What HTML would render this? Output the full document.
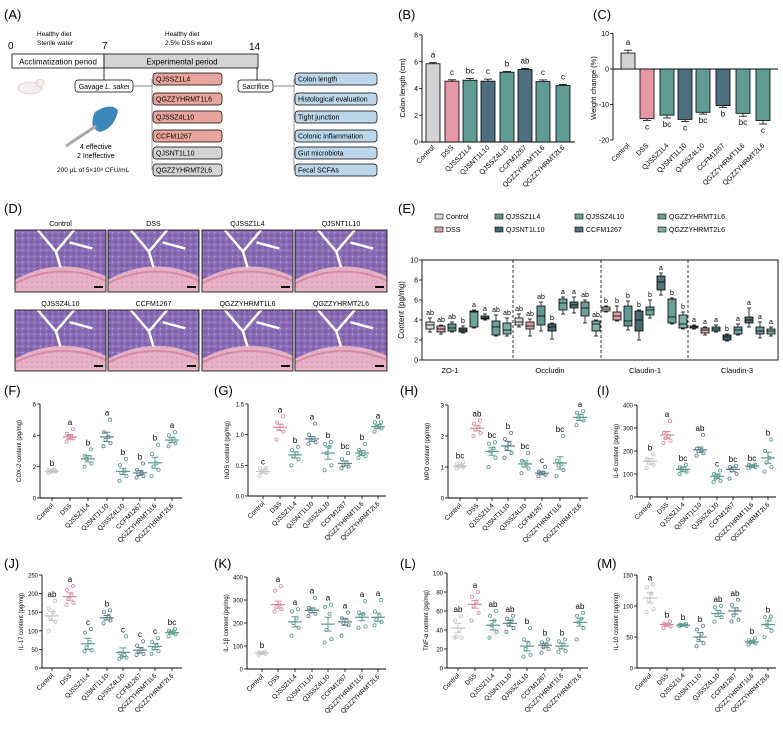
<!DOCTYPE html>
<html><head><meta charset="utf-8"><style>
html,body{margin:0;padding:0;background:#fff;}
svg{display:block;font-family:"Liberation Sans",Arial,sans-serif;}
</style></head><body>
<svg id="fig" width="783" height="733" viewBox="0 0 783 733" xmlns="http://www.w3.org/2000/svg">
<defs>
<pattern id="tex" width="6" height="6" patternUnits="userSpaceOnUse">
<circle cx="1.5" cy="1.5" r="1.1" fill="#5b3f8f" opacity="0.55"/>
<circle cx="4.5" cy="4.5" r="0.9" fill="#fff" opacity="0.35"/>
</pattern>
<pattern id="tex2" width="5" height="5" patternUnits="userSpaceOnUse">
<circle cx="2" cy="2" r="0.8" fill="#c77a9e" opacity="0.6"/>
</pattern>
</defs>
<!-- Panel A -->
<g font-size="7.5">
<text x="4" y="19" font-size="13">(A)</text>
<text x="37" y="36" font-size="6.5">Healthy diet</text>
<text x="37" y="45" font-size="6.5">Sterile water</text>
<text x="165" y="36" font-size="6.5">Healthy diet</text>
<text x="165" y="45" font-size="6.5">2.5% DSS water</text>
<text x="8" y="49" font-size="10">0</text>
<text x="102" y="49" font-size="10">7</text>
<text x="249" y="50" font-size="10">14</text>
<rect x="12" y="54" width="92" height="14" fill="#fff" stroke="#000" stroke-width="0.8"/>
<rect x="104" y="54" width="154" height="14" fill="#d4d4d4" stroke="#000" stroke-width="0.8"/>
<text x="58" y="64.5" text-anchor="middle" font-size="8">Acclimatization period</text>
<text x="182" y="64.5" text-anchor="middle" font-size="8">Experimental period</text>
<line x1="104" y1="68" x2="104" y2="80" stroke="#000" stroke-width="0.8"/>
<line x1="257" y1="68" x2="257" y2="80" stroke="#000" stroke-width="0.8"/>
<rect x="75" y="80" width="58" height="12" rx="3" fill="#fff" stroke="#000" stroke-width="0.7"/>
<text x="104" y="89" text-anchor="middle" font-size="7">Gavage <tspan font-style="italic">L. sakei</tspan></text>
<line x1="133" y1="86" x2="153" y2="86" stroke="#888" stroke-width="1"/>
<line x1="152" y1="79" x2="152" y2="170" stroke="#888" stroke-width="0.8"/>
<rect x="238" y="80" width="35" height="12" rx="3" fill="#fff" stroke="#000" stroke-width="0.7"/>
<text x="255.5" y="89" text-anchor="middle" font-size="7">Sacrifice</text>
<line x1="273" y1="86" x2="295" y2="86" stroke="#888" stroke-width="1"/>
<line x1="294" y1="79" x2="294" y2="170" stroke="#888" stroke-width="0.8"/>
<g id="strainBoxes"></g><g id="outcomeBoxes"></g>
<ellipse cx="30" cy="88" rx="12" ry="6" fill="#f4eeee" stroke="#d8b8b8" stroke-width="0.6"/>
<circle cx="40" cy="83" r="4" fill="#f4eeee" stroke="#d8b8b8" stroke-width="0.6"/>
<path d="M95 112 Q110 102 118 110 Q115 128 100 132 Q88 128 95 112Z" fill="#3d86b8"/>
<line x1="66" y1="146" x2="96" y2="126" stroke="#aaa" stroke-width="3"/>
<text x="80" y="149" font-size="7">4 effective</text>
<text x="77" y="158" font-size="7">2 Ineffective</text>
<text x="57" y="172" font-size="6.5">200 μL of 5×10⁸ CFU/mL</text>
</g>
<!-- Panel D -->
<g id="panelD">
<text x="4" y="213" font-size="13">(D)</text>
</g>
<g id="panelB"></g><g id="panelC"></g><g id="panelE"></g><g id="scatters"></g>
</svg>
<script>
// ---------- data ----------
const groups = ["Control","DSS","QJSSZ1L4","QJSNT1L10","QJSSZ4L10","CCFM1267","QGZZYHRMT1L6","QGZZYHRMT2L6"];
const strainList = ["QJSSZ1L4","QGZZYHRMT1L6","QJSSZ4L10","CCFM1267","QJSNT1L10","QGZZYHRMT2L6"];
const outcomeList = ["Colon length","Histological evaluation","Tight junction","Colonic inflammation","Gut microbiota","Fecal SCFAs"];
const histoTitles = ["Control","DSS","QJSSZ1L4","QJSNT1L10","QJSSZ4L10","CCFM1267","QGZZYHRMT1L6","QGZZYHRMT2L6"];

const bMeans = [5.85,4.55,4.62,4.55,5.22,5.42,4.52,4.22];
const bSem = [0.08,0.1,0.12,0.15,0.05,0.08,0.12,0.08];
const bLetters = ["a","c","bc","c","b","ab","c","c"];
const bTicks = [0,2,4,6,8];

const cMeans = [4.5,-14,-13,-14.2,-12.2,-10.3,-12.5,-14.5];
const cSem = [0.8,0.5,0.8,0.6,0.5,0.5,0.8,1.0];
const cLetters = ["a","c","bc","c","bc","b","bc","c"];
const cTicks = [-20,-10,0,10];

const eMarkers = ["ZO-1","Occludin","Claudin-1","Claudin-3"];
const eTicks = [0,2,4,6,8,10];
const eZO1 = [[2.8,3.1,3.5,3.8,4.2],[2.6,2.8,3.1,3.4,3.5],[2.8,2.9,3.2,3.6,3.8],[2.7,2.8,3.0,3.2,3.4],[3.2,3.3,4.8,4.9,5.0],[4.0,4.1,4.2,4.4,4.6],[2.4,2.5,3.3,3.9,4.5],[2.4,2.6,3.0,3.7,4.2]];
const eOcc = [[3.3,3.5,3.8,4.2,4.6],[2.4,3.1,3.4,3.8,4.1],[2.9,3.5,4.4,5.4,5.8],[2.1,2.9,3.3,3.6,3.7],[4.6,5.0,5.7,6.1,6.3],[4.7,5.2,5.5,5.8,6.3],[3.7,4.4,5.2,5.8,6.0],[2.4,2.9,3.6,3.9,4.0]];
const eCld1 = [[4.8,4.9,5.1,5.3,5.4],[3.9,4.0,4.4,4.8,5.4],[3.0,3.4,3.9,5.4,5.9],[2.0,2.9,4.0,4.9,5.0],[4.2,4.5,5.0,5.3,6.0],[6.5,7.0,7.8,8.4,8.7],[3.6,3.7,4.3,6.1,6.2],[3.1,3.2,3.6,4.5,4.8]];
const eCld3 = [[3.1,3.2,3.3,3.4,3.5],[2.5,2.7,3.0,3.2,3.3],[2.8,2.9,3.1,3.3,3.5],[1.9,2.0,2.3,2.5,2.6],[2.5,2.6,3.0,3.3,3.6],[3.3,3.7,4.0,4.3,5.2],[2.2,2.6,2.9,3.3,3.8],[2.4,2.6,2.9,3.1,3.3]];
const eLetZO1 = ["ab","ab","ab","b","a","a","ab","ab"];
const eLetOcc = ["ab","ab","ab","b","a","a","ab","ab"];
const eLetCld1 = ["b","b","b","b","b","a","b","b"];
const eLetCld3 = ["a","a","a","b","a","a","a","a"];

const fMeans=[1.7,3.9,2.5,3.9,1.7,1.6,2.25,3.7], fSem=[0.1,0.15,0.2,0.3,0.2,0.15,0.35,0.15], fLetters=["b","a","b","a","b","b","b","a"], fTicks=[0,2,4,6];
const fPts=[[1.6,1.7,1.7,1.8,1.8,1.75],[3.6,3.8,3.9,3.9,4.1,4.4],[2.0,2.2,2.5,2.6,2.7,3.1],[3.3,3.5,3.7,3.9,4.2,5.0],[1.1,1.4,1.6,1.7,2.1,2.5],[1.3,1.4,1.5,1.6,1.8,2.2],[1.4,1.8,2.0,2.2,2.8,3.4],[3.3,3.5,3.6,3.8,4.0,4.2]];
const gMeans=[0.4,1.12,0.67,0.93,0.7,0.53,0.7,1.13], gSem=[0.03,0.05,0.05,0.04,0.1,0.04,0.04,0.03], gLetters=["c","a","b","a","b","bc","b","a"], gTicks=[0,0.5,1.0,1.5];
const gPts=[[0.33,0.38,0.4,0.42,0.45,0.45],[0.92,1.05,1.1,1.15,1.2,1.3],[0.5,0.6,0.65,0.7,0.75,0.8],[0.85,0.88,0.92,0.95,1.0,1.18],[0.42,0.5,0.7,0.8,0.85,0.88],[0.45,0.48,0.5,0.55,0.6,0.7],[0.62,0.65,0.7,0.72,0.75,0.85],[1.05,1.1,1.12,1.15,1.2,1.2]];
const hMeans=[1.03,2.25,1.5,1.68,1.1,0.8,1.13,2.6], hSem=[0.04,0.08,0.12,0.15,0.1,0.05,0.2,0.1], hLetters=["bc","ab","bc","b","bc","c","bc","a"], hTicks=[0,1,2,3];
const hPts=[[0.95,1,1.02,1.05,1.1,1.15],[2.0,2.1,2.2,2.3,2.4,2.5],[1.0,1.3,1.5,1.6,1.75,1.8],[1.3,1.45,1.6,1.75,1.9,2.1],[0.8,0.95,1.05,1.1,1.2,1.45],[0.7,0.75,0.8,0.82,0.85,1.0],[0.7,0.9,1.05,1.1,1.2,2.0],[2.35,2.5,2.6,2.65,2.75,2.8]];
const iMeans=[155,270,120,205,90,120,135,170], iSem=[12,15,10,12,10,10,5,25], iLetters=["b","a","bc","ab","c","bc","bc","b"], iTicks=[0,100,200,300,400];
const iPts=[[125,140,150,160,165,185],[235,245,255,265,280,330],[100,110,120,125,130,140],[180,190,200,205,210,270],[65,70,80,90,100,115],[80,100,115,125,130,135],[125,130,132,135,140,140],[110,130,150,170,200,250]];
const jMeans=[140,192,65,135,42,48,58,95], jSem=[12,10,15,6,12,7,8,4], jLetters=["ab","a","c","b","c","c","c","bc"], jTicks=[0,50,100,150,200,250];
const jPts=[[100,125,135,150,160,180],[170,175,185,195,210,220],[45,48,55,70,95,105],[120,128,132,140,150,155],[25,28,30,35,40,85],[35,38,42,50,60,72],[38,45,52,60,70,80],[85,90,95,98,100,105]];
const kMeans=[70,280,205,255,195,205,225,225], kSem=[4,15,22,10,30,15,15,18], kLetters=["b","a","a","a","a","a","a","a"], kTicks=[0,100,200,300,400];
const kPts=[[62,65,68,70,72,75],[250,260,270,280,340,360],[145,180,200,220,250,260],[230,240,250,260,265,310],[115,130,170,240,270,280],[145,190,200,210,220,245],[180,185,230,240,245,295],[190,205,215,230,250,300]];
const lMeans=[42,67,45,47,23,24,23,48], lSem=[5,4,5,3,5,2,3,4], lLetters=["ab","a","ab","ab","b","b","b","ab"], lTicks=[0,20,40,60,80,100];
const lPts=[[32,32,33,40,50,55],[50,58,65,70,75,80],[32,38,45,50,55,60],[38,42,46,50,52,55],[12,14,20,25,30,42],[16,20,22,25,27,30],[17,18,22,25,28,30],[30,42,48,52,55,58]];
const mMeans=[113,70,69,50,88,92,42,70], mSem=[8,2,1,7,5,5,2,6], mLetters=["a","b","b","b","ab","ab","b","b"], mTicks=[0,50,100,150];
const mPts=[[90,95,110,120,130,135],[65,67,69,70,72,75],[68,68,69,70,70,71],[35,40,48,55,62,68],[75,82,85,90,98,100],[75,78,85,95,102,110],[38,40,42,43,45,48],[50,60,70,78,82,83]];

// ---------- styling ----------
const NS="http://www.w3.org/2000/svg";
const barCols=["#d2d2d2","#e597a3","#5f9c94","#4e6f7f","#5f9c94","#4e6f7f","#5f9c94","#5f9c94"];
const boxCols=["#d9d9d9","#d9a2aa","#5e9a92","#4a6670","#6aa59c","#56737c","#6b9e98","#7fb0a8"];
const dotCols=["#c4c4c4","#d98a98","#5a9a90","#5a8088","#5a9a90","#5a8088","#5a9a90","#5a9a90"];

function mk(tag,attrs,parent,text){const e=document.createElementNS(NS,tag);for(const k in attrs)e.setAttribute(k,attrs[k]);if(text!==undefined)e.textContent=text;parent.appendChild(e);return e;}
function lin(d0,d1,r0,r1){return v=>r0+(v-d0)*(r1-r0)/(d1-d0);}

// ---------- panel A boxes ----------
const sb=document.getElementById('strainBoxes');
const boxYs=[73,93,111,130,147,164];
strainList.forEach((s,i)=>{
  const r=mk('rect',{x:153,y:boxYs[i],width:69,height:12,rx:3,fill:i<4?"#e8a59e":"#d4d4d4",stroke:"#000","stroke-width":0.7},sb);
  
  
  const t=mk('text',{x:156,y:boxYs[i]+8.7,"font-size":7},sb,s);
  
  
});
const ob=document.getElementById('outcomeBoxes');
outcomeList.forEach((s,i)=>{
  const r=mk('rect',{x:295,y:boxYs[i],width:82,height:12,rx:3,fill:"#bcd7ea",stroke:"#000","stroke-width":0.7},ob);
  
  
  const t=mk('text',{x:298,y:boxYs[i]+8.7,"font-size":7},ob,s);
  
  
});

// ---------- panel D histology ----------
const pd=document.getElementById('panelD');
const hx=[15,108,202,295], hy=[230,310], hw=[91,91,91,92];
histoTitles.forEach((t,i)=>{
  const c=i%4,r=Math.floor(i/4),x=hx[c],y=hy[r],w=hw[c],h=r?61:62;
  const g=mk('g',{},pd);
  
  
  mk('rect',{x:x,y:y,width:w,height:h,fill:"#e6b3c6"},g);
  mk('rect',{x:x,y:y,width:w,height:h,fill:"url(#tex2)"},g);
  const pth=`M${x} ${y+h*0.8} Q${x+w/2} ${y+h*0.4} ${x+w} ${y+h*0.75} L${x+w} ${y} L${x} ${y}Z`;
  mk('path',{d:pth,fill:"#8a6bb5"},g);
  mk('path',{d:pth,fill:"url(#tex)"},g);
  mk('path',{d:`M${x} ${y+h*0.86} Q${x+w/2} ${y+h*0.5} ${x+w} ${y+h*0.82}`,fill:"none",stroke:"#d88aa8","stroke-width":2},g);
  mk('path',{d:`M${x+w*0.25} ${y} L${x+w*0.45} ${y+h*0.35} L${x+w*0.65} ${y} M${x+w*0.45} ${y+h*0.35} L${x+w*0.5} ${y+h*0.6} M${x+w*0.6} ${y+h*0.2} L${x+w*0.85} ${y+h*0.3}`,fill:"none",stroke:"#fff","stroke-width":2.5},g);
  mk('rect',{x:x,y:y,width:w,height:h,fill:"none",stroke:"#000","stroke-width":0.8},g);
  mk('rect',{x:x+w-12,y:y+h-6,width:9,height:2,fill:"#000"},g);
  const tt=mk('text',{x:x+w/2,y:y-4,"text-anchor":"middle","font-size":7},pd,t);
  
  
});

// ---------- shared axis helpers ----------
function xLabels(g,xs,yBase,fs){
  groups.forEach((n,i)=>{
    const t=mk('text',{x:xs[i]+2,y:yBase,"text-anchor":"end","font-size":fs,transform:`rotate(-45 ${xs[i]+2} ${yBase})`},g,n);
    
    
  });
}
function yAxis(g,ax,ticks,ys,fs,fmt){
  mk('line',{x1:ax,y1:ys(ticks[ticks.length-1]),x2:ax,y2:ys(ticks[0]),stroke:"#000","stroke-width":0.9},g);
  ticks.forEach(v=>{
    mk('line',{x1:ax-3,y1:ys(v),x2:ax,y2:ys(v),stroke:"#000","stroke-width":0.8},g);
    const t=mk('text',{x:ax-4,y:ys(v)+2.5,"text-anchor":"end","font-size":fs},g,fmt?fmt(v):v);
    
    
  });
}

// ---------- panel B ----------
(function(){
  const g=document.getElementById('panelB');
  
  
  mk('text',{x:398,y:19,"font-size":13},g,"(B)");
  const ys=lin(0,8,142,35), bx=[433,452,470,488,507,525,543,563];
  yAxis(g,422,bTicks,ys,7);
  mk('line',{x1:422,y1:142,x2:575,y2:142,stroke:"#000","stroke-width":0.9},g);
  bMeans.forEach((m,i)=>{
    const r=mk('rect',{x:bx[i]-7,y:ys(m),width:14,height:142-ys(m),fill:barCols[i],stroke:"#000","stroke-width":0.8},g);
    
    
    mk('line',{x1:bx[i],y1:ys(m+bSem[i]),x2:bx[i],y2:ys(m),stroke:"#000","stroke-width":0.8},g);
    mk('line',{x1:bx[i]-4,y1:ys(m+bSem[i]),x2:bx[i]+4,y2:ys(m+bSem[i]),stroke:"#000","stroke-width":0.8},g);
    const t=mk('text',{x:bx[i],y:ys(m+bSem[i])-5,"text-anchor":"middle","font-size":8},g,bLetters[i]);
    
    
  });
  xLabels(g,bx,148,7);
  const yt=mk('text',{x:405,y:88,"text-anchor":"middle","font-size":7.5,transform:"rotate(-90 405 88)"},g,"Colon length (cm)");
  
  
})();

// ---------- panel C ----------
(function(){
  const g=document.getElementById('panelC');
  
  
  mk('text',{x:593,y:19,"font-size":13},g,"(C)");
  const ys=lin(0,-20,69,140), bx=[628,647,667,685,703,723,743,763];
  yAxis(g,613,cTicks,ys,7);
  mk('line',{x1:613,y1:ys(0),x2:778,y2:ys(0),stroke:"#000","stroke-width":0.9},g);
  cMeans.forEach((m,i)=>{
    const y0=ys(0),y1=ys(m);
    const r=mk('rect',{x:bx[i]-7,y:Math.min(y0,y1),width:14,height:Math.abs(y1-y0),fill:barCols[i],stroke:"#000","stroke-width":0.8},g);
    
    
    const e=m>=0?m+cSem[i]:m-cSem[i];
    mk('line',{x1:bx[i],y1:ys(e),x2:bx[i],y2:y1,stroke:"#000","stroke-width":0.8},g);
    mk('line',{x1:bx[i]-4,y1:ys(e),x2:bx[i]+4,y2:ys(e),stroke:"#000","stroke-width":0.8},g);
    const ly=m>=0?ys(e)-5:ys(e)+9;
    const t=mk('text',{x:bx[i],y:ly,"text-anchor":"middle","font-size":8},g,cLetters[i]);
    
    
  });
  xLabels(g,bx,146,7);
  const yt=mk('text',{x:596,y:88,"text-anchor":"middle","font-size":7.5,transform:"rotate(-90 596 88)"},g,"Weight change (%)");
  
  
})();

// ---------- panel E ----------
(function(){
  const g=document.getElementById('panelE');
  
  
  mk('text',{x:398,y:213,"font-size":13},g,"(E)");
  const lx=[445,505,585,668];
  groups.forEach((n,gi)=>{
    const x=lx[Math.floor(gi/2)], yy=gi%2===0?219:232;
    const le=mk('g',{},g);
    
    
    mk('rect',{x:x-10,y:yy-5,width:8,height:5,fill:boxCols[gi],stroke:"#000","stroke-width":0.6},le);
    mk('text',{x:x+1,y:yy,"font-size":7},le,n);
  });
  const ys=lin(0,10,360,260);
  mk('rect',{x:422,y:260,width:356,height:100,fill:"none",stroke:"#000","stroke-width":0.9},g);
  eTicks.forEach(v=>{
    mk('line',{x1:419,y1:ys(v),x2:422,y2:ys(v),stroke:"#000","stroke-width":0.8},g);
    const t=mk('text',{x:418,y:ys(v)+2.5,"text-anchor":"end","font-size":7},g,v);
    
    
  });
  [513,601,688].forEach(x=>mk('line',{x1:x,y1:260,x2:x,y2:360,stroke:"#000","stroke-width":0.8,"stroke-dasharray":"3,2"},g));
  const sets=[eZO1,eOcc,eCld1,eCld3], lets=[eLetZO1,eLetOcc,eLetCld1,eLetCld3];
  const gStart=[430,519,606,694], gStep=11, gLab=[450,550,645,737];
  sets.forEach((set,si)=>{
    const t=mk('text',{x:gLab[si],y:373,"text-anchor":"middle","font-size":7.5},g,eMarkers[si]);
    
    
    set.forEach((b,i)=>{
      const cx=gStart[si]+i*gStep, w=8;
      const bg=mk('g',{},g);
      
      
      mk('line',{x1:cx,y1:ys(b[0]),x2:cx,y2:ys(b[4]),stroke:"#000","stroke-width":0.8},bg);
      mk('line',{x1:cx-2,y1:ys(b[0]),x2:cx+2,y2:ys(b[0]),stroke:"#000","stroke-width":0.8},bg);
      mk('line',{x1:cx-2,y1:ys(b[4]),x2:cx+2,y2:ys(b[4]),stroke:"#000","stroke-width":0.8},bg);
      mk('rect',{x:cx-w/2,y:ys(b[3]),width:w,height:ys(b[1])-ys(b[3]),fill:boxCols[i],stroke:"#000","stroke-width":0.8},bg);
      mk('line',{x1:cx-w/2,y1:ys(b[2]),x2:cx+w/2,y2:ys(b[2]),stroke:"#000","stroke-width":0.8},bg);
      const lt=mk('text',{x:cx,y:ys(b[4])-3,"text-anchor":"middle","font-size":7},g,lets[si][i]);
      
      
    });
  });
  const yt=mk('text',{x:404,y:310,"text-anchor":"middle","font-size":8,transform:"rotate(-90 404 310)"},g,"Content (pg/mg)");
  
  
})();

// ---------- scatter panels F–M ----------
const panels=[
 {id:"f",lab:"(F)",lx:4,ly:395,ax:40,top:404,bot:498,xEnd:182,xs:[52,70,88,107,123,140,155,172],ticks:fTicks,means:fMeans,sem:fSem,pts:fPts,let:fLetters,title:"COX-2 content (pg/mg)",fmt:null},
 {id:"g",lab:"(G)",lx:214,ly:395,ax:248,top:404,bot:496,xEnd:386,xs:[263,280,295,312,328,345,362,378],ticks:gTicks,means:gMeans,sem:gSem,pts:gPts,let:gLetters,title:"iNOS content (pg/mg)",fmt:v=>v.toFixed(1)},
 {id:"h",lab:"(H)",lx:400,ly:395,ax:448,top:405,bot:498,xEnd:588,xs:[460,477,492,508,525,542,560,580],ticks:hTicks,means:hMeans,sem:hSem,pts:hPts,let:hLetters,title:"MPO content (pg/mg)",fmt:null},
 {id:"i",lab:"(I)",lx:597,ly:395,ax:637,top:405,bot:497,xEnd:776,xs:[650,667,683,700,717,733,752,768],ticks:iTicks,means:iMeans,sem:iSem,pts:iPts,let:iLetters,title:"IL-6 content (pg/mg)",fmt:null},
 {id:"j",lab:"(J)",lx:4,ly:568,ax:42,top:575,bot:668,xEnd:182,xs:[52,70,88,107,123,140,155,172],ticks:jTicks,means:jMeans,sem:jSem,pts:jPts,let:jLetters,title:"IL-17 content (pg/mg)",fmt:null},
 {id:"k",lab:"(K)",lx:214,ly:568,ax:247,top:577,bot:669,xEnd:386,xs:[262,278,295,312,328,345,362,378],ticks:kTicks,means:kMeans,sem:kSem,pts:kPts,let:kLetters,title:"IL-1β content (pg/mg)",fmt:null},
 {id:"l",lab:"(L)",lx:400,ly:568,ax:447,top:573,bot:668,xEnd:588,xs:[458,475,493,510,527,545,562,580],ticks:lTicks,means:lMeans,sem:lSem,pts:lPts,let:lLetters,title:"TNF-α content (pg/mg)",fmt:null},
 {id:"m",lab:"(M)",lx:597,ly:568,ax:637,top:575,bot:668,xEnd:776,xs:[650,667,683,700,718,735,752,768],ticks:mTicks,means:mMeans,sem:mSem,pts:mPts,let:mLetters,title:"IL-10 content (pg/mg)",fmt:null}
];
const sc=document.getElementById('scatters');
panels.forEach(p=>{
  const g=mk('g',{},sc);
  
  
  mk('text',{x:p.lx,y:p.ly,"font-size":13},g,p.lab);
  const ys=lin(p.ticks[0],p.ticks[p.ticks.length-1],p.bot,p.top);
  yAxis(g,p.ax,p.ticks,ys,6,p.fmt);
  mk('line',{x1:p.ax,y1:p.bot,x2:p.xEnd,y2:p.bot,stroke:"#000","stroke-width":0.9},g);
  p.xs.forEach(x=>mk('line',{x1:x,y1:p.bot,x2:x,y2:p.bot+3,stroke:"#000","stroke-width":0.8},g));
  p.means.forEach((m,i)=>{
    const cx=p.xs[i], col=dotCols[i];
    const pg=mk('g',{},g);
    
    
    p.pts[i].forEach((v,k)=>{
      const off=[-3.5,3.5,-1.5,1.5,-3,3][k];
      mk('circle',{cx:cx+off,cy:ys(v),r:1.6,fill:"none",stroke:col,"stroke-width":0.8},pg);
    });
    mk('line',{x1:cx-7,y1:ys(m),x2:cx+7,y2:ys(m),stroke:col,"stroke-width":1.2},pg);
    mk('line',{x1:cx,y1:ys(m-p.sem[i]),x2:cx,y2:ys(m+p.sem[i]),stroke:col,"stroke-width":1},pg);
    mk('line',{x1:cx-3.5,y1:ys(m+p.sem[i]),x2:cx+3.5,y2:ys(m+p.sem[i]),stroke:col,"stroke-width":1},pg);
    mk('line',{x1:cx-3.5,y1:ys(m-p.sem[i]),x2:cx+3.5,y2:ys(m-p.sem[i]),stroke:col,"stroke-width":1},pg);
    const top=Math.max(...p.pts[i],m+p.sem[i]);
    const t=mk('text',{x:cx,y:ys(top)-4,"text-anchor":"middle","font-size":8},g,p.let[i]);
    
    
  });
  xLabels(g,p.xs,p.bot+8,6.5);
  const tx=p.ax-19, ty=(p.top+p.bot)/2;
  const yt=mk('text',{x:tx,y:ty,"text-anchor":"middle","font-size":6,transform:`rotate(-90 ${tx} ${ty})`},g,p.title);
  
  
});
</script>
</body></html>
